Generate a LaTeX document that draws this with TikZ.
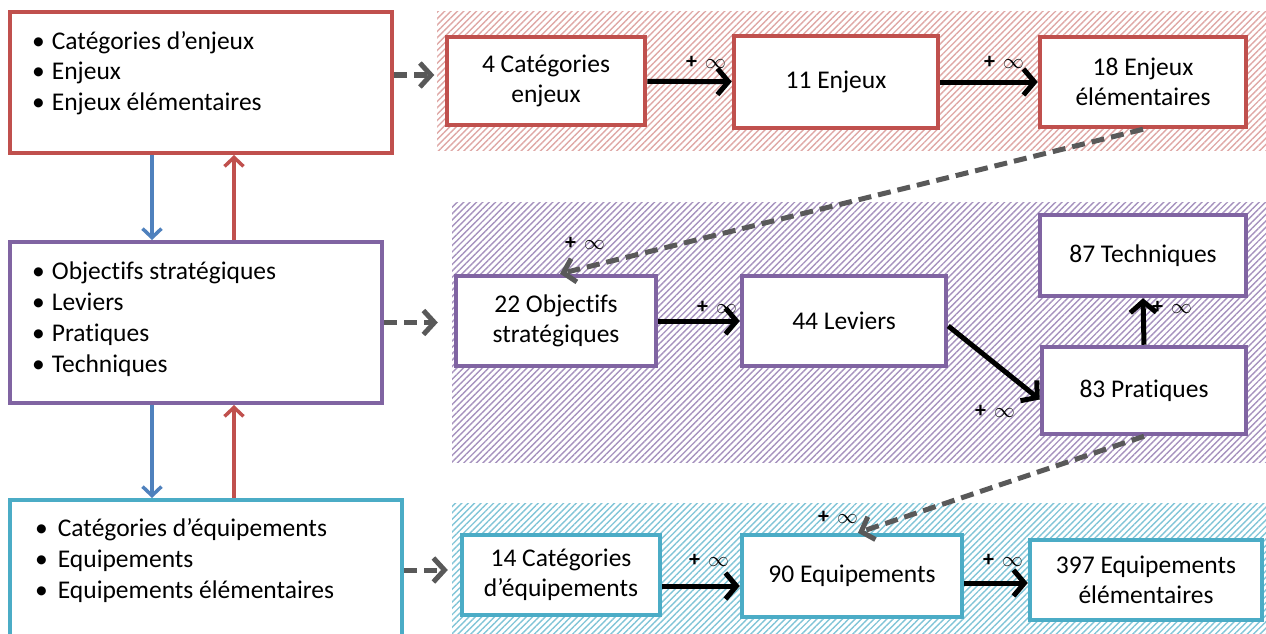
\documentclass[tikz,border=0pt]{standalone}
\usepackage{fontspec}
\setmainfont{Carlito}[Ligatures=NoCommon]
\usetikzlibrary{arrows.meta,patterns.meta}
\definecolor{cred}{HTML}{C0504D}
\definecolor{cpur}{HTML}{8064A2}
\definecolor{ccyan}{HTML}{4BACC6}
\definecolor{cblue}{HTML}{4F81BD}
\definecolor{cgray}{HTML}{595959}
\newcommand\myb[1]{\textbullet\hspace{7pt}#1}
\newcommand\mybb[1]{\textbullet\hspace{10pt}#1}
\newcommand\plusinf{{\fontsize{22}{22}\selectfont\textbf{+}}\hspace{8pt}{\fontsize{21}{21}\selectfont$\infty$}}
\tikzset{
  hatchzone/.style={draw=none, inner sep=0pt, pattern={Lines[angle=45,distance=4.5pt,line width=1.4pt]}, pattern color=#1},
  bigbox/.style={draw=#1, line width=4pt, fill=white, inner sep=0pt},
  smallbox/.style={draw=#1, line width=4.5pt, fill=white, inner sep=0pt, align=center,
    font=\fontsize{25.5}{30}\selectfont},
  listtext/.style={inner sep=0pt, align=left, anchor=west, font=\fontsize{25.5}{30.8}\selectfont},
  solidarrow/.style={draw=black, line width=5pt, -{Straight Barb[length=11pt,width=26pt]}},
  dasharrow/.style={draw=cgray, line width=5pt, dash pattern=on 13pt off 7pt, -{Straight Barb[length=11pt,width=24pt]}},
  vblue/.style={draw=cblue, line width=3.5pt, -{Straight Barb[length=9pt,width=19pt]}},
  vred/.style={draw=cred, line width=3.5pt, -{Straight Barb[length=9pt,width=19pt]}},
  lab/.style={inner sep=0pt}
}
\begin{document}
\begin{tikzpicture}[x=1pt,y=-1pt]
\useasboundingbox (0,0) rectangle (1266,634);
\clip (0,0) rectangle (1266,634);

% hatched zones
\node[hatchzone=cred!50, minimum width=829pt, minimum height=138pt] (H1) at (851.5,81) {};
\node[hatchzone=cpur!70, minimum width=814pt, minimum height=260pt] (H2) at (859,332) {};
\node[hatchzone=ccyan!70, minimum width=814pt, minimum height=142pt] (H3) at (859,574) {};

% left boxes
\node[bigbox=cred, minimum width=382pt, minimum height=141pt] (A) at (201,82.5) {};
\node[bigbox=cpur, minimum width=372pt, minimum height=161pt] (B) at (196,322.5) {};
\node[bigbox=ccyan, minimum width=392pt, minimum height=150pt] (C) at (206,575) {};

\node[listtext] (At) at (32,73) {\myb{Catégories d’enjeux}\\ \myb{Enjeux}\\ \myb{Enjeux élémentaires}};
\node[listtext] (Bt) at (32,319) {\myb{Objectifs stratégiques}\\ \myb{Leviers}\\ \myb{Pratiques}\\ \myb{Techniques}};
\node[listtext] (Ct) at (35,560.5) {\mybb{Catégories d’équipements}\\ \mybb{Equipements}\\ \mybb{Equipements élémentaires}};

% right boxes
\node[smallbox=cred, minimum width=198pt, minimum height=88pt] (r1) at (546,81) {4 Catégories\\enjeux};
\node[smallbox=cred, minimum width=204pt, minimum height=92pt] (r2) at (836,82) {11 Enjeux};
\node[smallbox=cred, minimum width=206pt, minimum height=90pt] (r3) at (1143,82) {18 Enjeux\\élémentaires};

\node[smallbox=cpur, minimum width=200pt, minimum height=90pt] (p1) at (556,321) {22 Objectifs\\stratégiques};
\node[smallbox=cpur, minimum width=204pt, minimum height=90pt] (p2) at (844,321) {44 Leviers};
\node[smallbox=cpur, minimum width=206pt, minimum height=81pt] (p4) at (1143,255.5) {87 Techniques};
\node[smallbox=cpur, minimum width=204pt, minimum height=87pt] (p3) at (1144,390.5) {83 Pratiques};

\node[smallbox=ccyan, minimum width=198pt, minimum height=80pt] (c1) at (561,575) {14 Catégories\\d’équipements};
\node[smallbox=ccyan, minimum width=220pt, minimum height=82pt] (c2) at (852,576) {90 Equipements};
\node[smallbox=ccyan, minimum width=232pt, minimum height=80pt] (c3) at (1146,580) {397 Equipements\\élémentaires};

% vertical arrows between left boxes
\coordinate (bx) at (152,0);
\coordinate (rx) at (234,0);
\draw[vblue] (A.south -| bx) -- (B.north -| bx);
\draw[vred] (B.north -| rx) -- (A.south -| rx);
\draw[vblue] (B.south -| bx) -- (C.north -| bx);
\draw[vred] (C.north -| rx) -- (B.south -| rx);

% dashed arrows from left boxes to zones
\draw[dasharrow] ([yshift=7.5pt]A.east) -- ([yshift=7.5pt,xshift=-2pt]A.east -| H1.west);
\draw[dasharrow] (B.east) -- ([xshift=-14pt]B.east -| H2.west);
\draw[dasharrow] ([yshift=5pt]C.east) -- ([yshift=5pt,xshift=-4pt]C.east -| H3.west);

% solid arrows
\draw[solidarrow] (r1) -- (r2);
\draw[solidarrow] (r2) -- (r3);
\draw[solidarrow] (p1) -- (p2);
\draw[solidarrow] ([yshift=-5pt]p2.east) -- ([yshift=-9pt]p3.west);
\draw[solidarrow] (p3.north) -- (p4.south);
\draw[solidarrow] ([yshift=-11pt]c1.east) -- ([yshift=-11pt]c1.east -| c2.west);
\draw[solidarrow] ([yshift=-7pt]c2.east) -- ([yshift=-7pt]c2.east -| c3.west);

% dashed diagonal arrows
\draw[dasharrow] (r3.south) -- ([xshift=4pt]p1.north);
\draw[dasharrow] (p3.south) -- ([xshift=6pt]c2.north);

% labels
\node[lab] (l1) at (706,62) {\plusinf};
\node[lab] (l2) at (1004,62) {\plusinf};
\node[lab] (l3) at (585,243) {\plusinf};
\node[lab] (l4) at (717,307) {\plusinf};
\node[lab] (l5) at (995,411) {\plusinf};
\node[lab] (l6) at (1172,307) {\plusinf};
\node[lab] (l7) at (838,517) {\plusinf};
\node[lab] (l8) at (709,560) {\plusinf};
\node[lab] (l9) at (1003,560) {\plusinf};
\end{tikzpicture}
\end{document}
